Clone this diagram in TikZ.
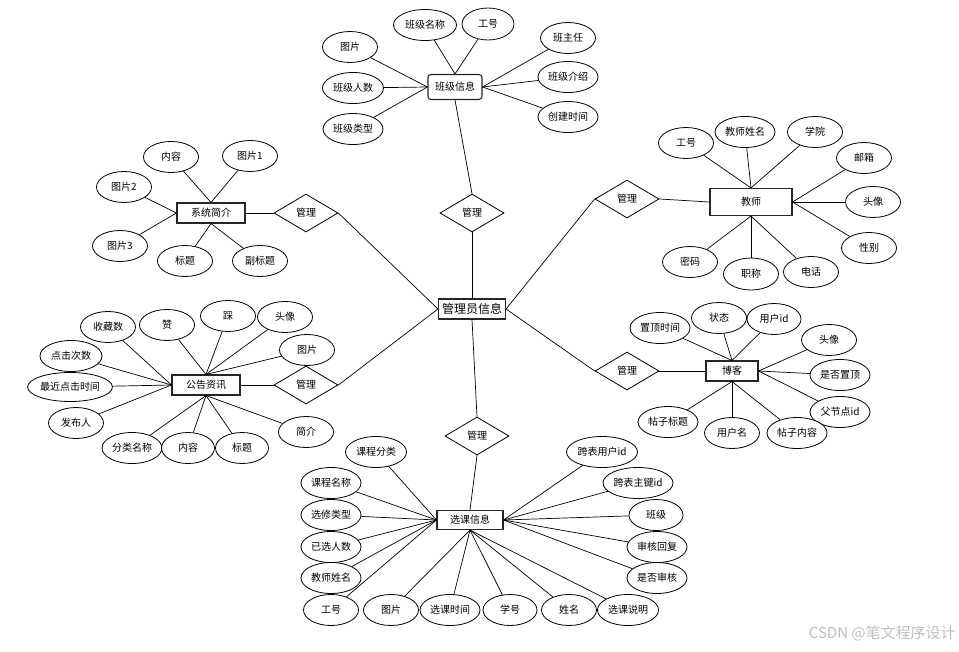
\documentclass[tikz,border=0pt]{standalone}
\usepackage{fontspec}
\setmainfont{Noto Sans CJK SC}
\usetikzlibrary{shapes.geometric}
\begin{document}
\begin{tikzpicture}[x=1pt,y=-1pt,
  line width=0.7pt,
  conn/.style={draw=black,line width=0.7pt},
  attr/.style={ellipse,draw=black,fill=white,line width=0.8pt,minimum width=55pt,minimum height=31pt,inner sep=0pt,font=\fontsize{10}{12}\selectfont},
  ent/.style={rectangle,draw=black!85,fill=white,line width=1.1pt,minimum height=20pt,inner sep=0pt,font=\fontsize{10}{12}\selectfont},
  rel/.style={diamond,draw=black,fill=white,line width=0.8pt,minimum width=64pt,minimum height=38pt,aspect=1.68,inner sep=0pt,font=\fontsize{10}{12}\selectfont}]
\useasboundingbox (0,0) rectangle (959,651);
\fill[white] (0,0) rectangle (959,651);

% ---------- centre ----------
\node[ent,minimum width=67pt,minimum height=20pt,font=\fontsize{12}{14}\selectfont] (gly) at (472,309) {管理员信息};
\node[rel] (r1) at (472,213) {管理};
\node[rel] (r5) at (477,436) {管理};

% ---------- 班级信息 ----------
\node[ent,rounded corners=3pt,minimum width=54pt,minimum height=25pt] (bj) at (455,87) {班级信息};
\node[attr,minimum width=63pt] (bjmc) at (425,25) {班级名称};
\node[attr,minimum width=52pt,minimum height=32pt] (bjgh) at (488,24) {工号};
\node[attr] (bjtp) at (350,47) {图片};
\node[attr] (bjzr) at (568,38) {班主任};
\node[attr,minimum width=61pt] (bjrs) at (353,88) {班级人数};
\node[attr,minimum width=60pt] (bjjs) at (568,77) {班级介绍};
\node[attr,minimum width=60pt] (bjlx) at (353,129) {班级类型};
\node[attr,minimum width=60pt] (bjsj) at (568,117) {创建时间};
\draw[conn] (bj.north) -- (bjmc);
\draw[conn] (bj.north) -- (bjgh);
\draw[conn] (bj.west) -- (bjtp);
\draw[conn] (bj.west) -- (bjrs);
\draw[conn] (bj.west) -- (bjlx);
\draw[conn] (bj.east) -- (bjzr);
\draw[conn] (bj.east) -- (bjjs);
\draw[conn] (bj.east) -- (bjsj);

% ---------- 系统简介 ----------
\node[ent,minimum width=68pt] (xt) at (211,213) {系统简介};
\node[attr] (xtnr) at (171,157) {内容};
\node[attr] (xtt1) at (250,156) {图片1};
\node[attr] (xtt2) at (124,187) {图片2};
\node[attr] (xtt3) at (120,246) {图片3};
\node[attr] (xtbt) at (185,261) {标题};
\node[attr] (xtfb) at (260,261) {副标题};
\node[rel] (r2) at (306,213) {管理};
\draw[conn] (xt.north) -- (xtnr);
\draw[conn] (xt.north) -- (xtt1);
\draw[conn] (xt.west) -- (xtt2);
\draw[conn] (xt.west) -- (xtt3);
\draw[conn] (xt.south) -- (xtbt);
\draw[conn] (xt.south) -- (xtfb);

% ---------- 教师 ----------
\node[ent,minimum width=82pt,minimum height=27pt] (js) at (751,202) {教师};
\node[attr] (jsgh) at (686,143) {工号};
\node[attr,minimum width=60pt] (jsxm) at (745,132) {教师姓名};
\node[attr] (jsxy) at (815,132) {学院};
\node[attr] (jsyx) at (864,158) {邮箱};
\node[attr] (jstx) at (873,202) {头像};
\node[attr] (jsxb) at (869,248) {性别};
\node[attr] (jsmm) at (690,262) {密码};
\node[attr,minimum height=32pt] (jszc) at (751,274) {职称};
\node[attr] (jsdh) at (811,272) {电话};
\node[rel] (r3) at (627,199) {管理};
\draw[conn] (js.north) -- (jsgh);
\draw[conn] (js.north) -- (jsxm);
\draw[conn] (js.north) -- (jsxy);
\draw[conn] (js.east) -- (jsyx);
\draw[conn] (js.east) -- (jstx);
\draw[conn] (js.east) -- (jsxb);
\draw[conn] (js.south) -- (jsmm);
\draw[conn] (js.south) -- (jszc);
\draw[conn] (js.south) -- (jsdh);

% ---------- 公告资讯 ----------
\node[ent,minimum width=68pt] (gg) at (206,385) {公告资讯};
\node[attr] (ggsc) at (108,327) {收藏数};
\node[attr] (ggz) at (167,325) {赞};
\node[attr] (ggc) at (228,316) {踩};
\node[attr] (ggtx) at (285,317) {头像};
\node[attr] (ggtp) at (307,350) {图片};
\node[attr,minimum width=62pt] (ggdj) at (71,356) {点击次数};
\node[attr,minimum width=81pt,minimum height=29pt] (ggzj) at (70,387) {最近点击时间};
\node[attr] (ggfb) at (76,423) {发布人};
\node[attr,minimum width=60pt] (ggfl) at (132,448) {分类名称};
\node[attr,minimum width=53pt] (ggnr) at (188,448) {内容};
\node[attr,minimum width=53pt] (ggbt) at (242,448) {标题};
\node[attr] (ggjj) at (306,432) {简介};
\node[rel] (r4) at (306,385) {管理};
\draw[conn] (gg.west) -- (ggsc);
\draw[conn] (gg.west) -- (ggdj);
\draw[conn] (gg.west) -- (ggzj);
\draw[conn] (gg.west) -- (ggfb);
\draw[conn] (gg.north) -- (ggz);
\draw[conn] (gg.north) -- (ggc);
\draw[conn] (gg.north) -- (ggtx);
\draw[conn] (gg.north) -- (ggtp);
\draw[conn] (gg.south) -- (ggfl);
\draw[conn] (gg.south) -- (ggnr);
\draw[conn] (gg.south) -- (ggbt);
\draw[conn] (gg.south) -- (ggjj);

% ---------- 博客 ----------
\node[ent,minimum width=52pt] (bk) at (732,371) {博客};
\node[attr,minimum width=60pt] (bkzd) at (660,328) {置顶时间};
\node[attr] (bkzt) at (719,318) {状态};
\node[attr,minimum width=54pt] (bkid) at (774,319) {用户id};
\node[attr] (bktx) at (829,340) {头像};
\node[attr,minimum width=60pt] (bksf) at (840,375) {是否置顶};
\node[attr,minimum width=60pt] (bkfj) at (840,412) {父节点id};
\node[attr,minimum width=60pt] (bkbt) at (668,422) {帖子标题};
\node[attr] (bkyh) at (732,433) {用户名};
\node[attr,minimum width=60pt] (bknr) at (797,433) {帖子内容};
\node[rel] (r6) at (627,371) {管理};
\draw[conn] (bk.north) -- (bkzd);
\draw[conn] (bk.north) -- (bkzt);
\draw[conn] (bk.north) -- (bkid);
\draw[conn] (bk.east) -- (bktx);
\draw[conn] (bk.east) -- (bksf);
\draw[conn] (bk.east) -- (bkfj);
\draw[conn] (bk.south) -- (bkbt);
\draw[conn] (bk.south) -- (bkyh);
\draw[conn] (bk.south) -- (bknr);

% ---------- 选课信息 ----------
\node[ent,minimum width=66pt,minimum height=19pt] (xk) at (470,520) {选课信息};
\node[attr,minimum width=61pt] (xkfl) at (376,452) {课程分类};
\node[attr,minimum width=60pt] (xkmc) at (331,483) {课程名称};
\node[attr,minimum width=60pt] (xklx) at (331,515) {选修类型};
\node[attr,minimum width=60pt] (xkrs) at (331,547) {已选人数};
\node[attr,minimum width=60pt] (xkxm) at (331,578) {教师姓名};
\node[attr] (xkgh) at (331,610) {工号};
\node[attr] (xktp) at (391,610) {图片};
\node[attr,minimum width=60pt] (xksj) at (450,610) {选课时间};
\node[attr,minimum width=54pt] (xkxh) at (510,610) {学号};
\node[attr] (xkxn) at (569,610) {姓名};
\node[attr,minimum width=61pt] (xksm) at (628,610) {选课说明};
\node[attr,minimum width=71pt] (xkyh) at (602,452) {跨表用户id};
\node[attr,minimum width=70pt] (xkzj) at (638,483) {跨表主键id};
\node[attr,minimum width=54pt] (xkbj) at (656,515) {班级};
\node[attr,minimum width=60pt] (xkhf) at (657,547) {审核回复};
\node[attr,minimum width=60pt] (xksh) at (657,578) {是否审核};
\draw[conn] (xk.west) -- (xkfl);
\draw[conn] (xk.west) -- (xkmc);
\draw[conn] (xk.west) -- (xklx);
\draw[conn] (xk.west) -- (xkrs);
\draw[conn] (xk.west) -- (xkxm);
\draw[conn] (xk.west) -- (xkgh);
\draw[conn] (xk.south) -- (xktp);
\draw[conn] (xk.south) -- (xksj);
\draw[conn] (xk.south) -- (xkxh);
\draw[conn] (xk.south) -- (xkxn);
\draw[conn] (xk.south) -- (xksm);
\draw[conn] (xk.east) -- (xkyh);
\draw[conn] (xk.east) -- (xkzj);
\draw[conn] (xk.east) -- (xkbj);
\draw[conn] (xk.east) -- (xkhf);
\draw[conn] (xk.east) -- (xksh);

% ---------- relationship links ----------
\draw[conn] (bj.south) -- (r1.north);
\draw[conn] (r1.south) -- (gly.north);
\draw[conn] (gly.south) -- (r5.north);
\draw[conn] (r5.south) -- (xk.north);
\draw[conn] (xt.east) -- (r2.west);
\draw[conn] (r2.east) -- (gly.west);
\draw[conn] (js.west) -- (r3.east);
\draw[conn] (r3.west) -- (gly.east);
\draw[conn] (gg.east) -- (r4.west);
\draw[conn] (r4.east) -- (gly.west);
\draw[conn] (bk.west) -- (r6.east);
\draw[conn] (r6.west) -- (gly.east);

% ---------- watermark ----------
\node[anchor=east,inner sep=0pt,text=black!25,font=\fontsize{15}{18}\selectfont] (wm) at (956,633) {CSDN @笔文程序设计};
\end{tikzpicture}
\end{document}
